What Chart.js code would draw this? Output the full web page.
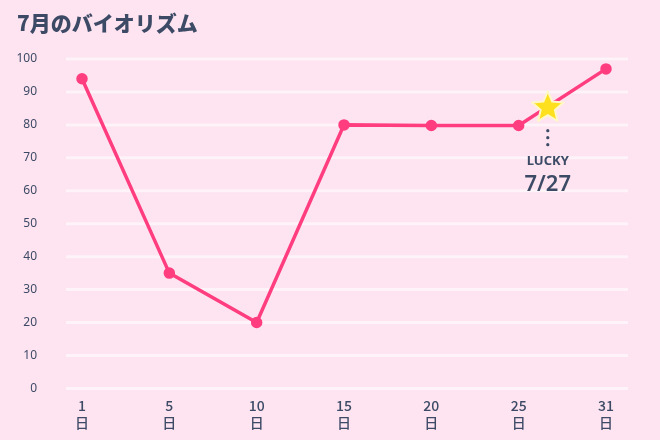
<!DOCTYPE html>
<html><head><meta charset="utf-8">
<script src="https://cdn.jsdelivr.net/npm/chart.js@4"></script>
<style>html,body{margin:0;background:#fde4f0}#wrap{width:660px;height:440px}</style>
</head><body><div id="wrap"><canvas id="c"></canvas></div>
<script>
const days = ['1', '5', '10', '15', '20', '25', '31'];
const values = [94, 35, 20, 80, 79.8, 79.8, 97];
const yTicks = [0, 10, 20, 30, 40, 50, 60, 70, 80, 90, 100];
const titleText = '7月のバイオリズム';
const luckyLabel = ['LUCKY', '7/27'];
const luckyPos = { from: 5, frac: 2 / 6 }; // 7/27 sits between 25 and 31

const ink = '#3d4a66';
const pink = '#ff3d7f';

// light bands across the whole width at each y tick, plus the title
const gridBands = {
  id: 'gridBands',
  beforeDatasetsDraw(chart) {
    const { ctx, scales: { y } } = chart;
    ctx.save();
    ctx.strokeStyle = 'rgba(255,255,255,0.55)';
    ctx.lineWidth = 3;
    yTicks.forEach(v => {
      const py = y.getPixelForValue(v);
      ctx.beginPath(); ctx.moveTo(66, py); ctx.lineTo(628, py); ctx.stroke();
    });
    ctx.fillStyle = ink;
    ctx.font = '900 21px "Noto Sans CJK JP"';
    ctx.textBaseline = 'alphabetic';
    ctx.fillText(titleText, 17, 31);
    ctx.restore();
  }
};

function star(ctx, cx, cy, R, r) {
  ctx.beginPath();
  for (let i = 0; i < 10; i++) {
    const a = -Math.PI / 2 + i * Math.PI / 5;
    const rad = i % 2 ? r : R;
    ctx.lineTo(cx + rad * Math.cos(a), cy + rad * Math.sin(a));
  }
  ctx.closePath();
}

const lucky = {
  id: 'lucky',
  afterDatasetsDraw(chart) {
    const { ctx, scales: { x, y } } = chart;
    const i = luckyPos.from, f = luckyPos.frac;
    const px = x.getPixelForValue(i) + f * (x.getPixelForValue(i + 1) - x.getPixelForValue(i));
    const v = values[i] + f * (values[i + 1] - values[i]);
    const py = y.getPixelForValue(v);
    ctx.save();
    star(ctx, px, py + 1, 16.5, 7.5);
    ctx.fillStyle = '#ffe01f';
    ctx.strokeStyle = '#fff7c8';
    ctx.lineWidth = 2;
    ctx.lineJoin = 'round';
    ctx.fill(); ctx.stroke();
    ctx.fillStyle = ink;
    [py + 24, py + 31, py + 38].forEach(dy => {
      ctx.beginPath(); ctx.arc(px, dy, 1.6, 0, Math.PI * 2); ctx.fill();
    });
    ctx.textAlign = 'center';
    ctx.font = 'bold 13px "Noto Sans"';
    ctx.fillText(luckyLabel[0], px, py + 58);
    ctx.font = '600 22px "Noto Sans"';
    ctx.fillText(luckyLabel[1], px, py + 84);
    ctx.restore();
  }
};

new Chart(document.getElementById('c'), {
  type: 'line',
  data: {
    labels: days.map(d => [d, '日']),
    datasets: [{
      data: values,
      borderColor: pink,
      backgroundColor: pink,
      borderWidth: 3.5,
      pointRadius: 4,
      tension: 0
    }]
  },
  options: {
    responsive: true,
    maintainAspectRatio: false,
    animation: false,
    layout: { padding: { top: 59, right: 54, bottom: 8, left: 0 } },
    plugins: {
      legend: { display: false },
      tooltip: { enabled: false }
    },
    scales: {
      x: {
        offset: false,
        grid: { display: false },
        border: { display: false },
        ticks: { color: ink, font: { family: '"Noto Sans CJK JP"', size: 14, weight: '500' }, padding: 1, maxRotation: 0 }
      },
      y: {
        min: 0, max: 100,
        afterFit: s => { s.width = 82; },
        afterBuildTicks: s => { s.ticks = yTicks.map(v => ({ value: v })); },
        grid: { display: false },
        border: { display: false },
        ticks: { color: ink, font: { family: '"Noto Sans"', size: 12 }, padding: 37 }
      }
    }
  },
  plugins: [gridBands, lucky]
});
</script></body></html>
